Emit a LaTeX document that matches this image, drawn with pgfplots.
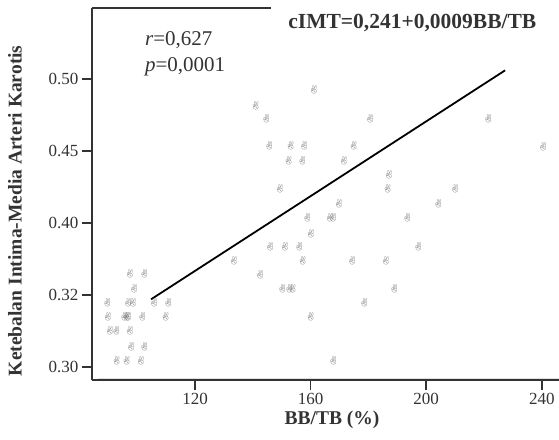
\documentclass[border=0pt]{standalone}
\usepackage{pgfplots}
\pgfplotsset{compat=1.18}
\usepackage{fontspec}
\setmainfont{Liberation Serif}
\newfontfamily\emo{Noto Emoji}
\definecolor{axisgray}{HTML}{333333}
\definecolor{markgray}{HTML}{707070}
\begin{document}
\begin{tikzpicture}
\useasboundingbox (-92pt,-59pt) rectangle (467pt,380pt);
\begin{axis}[
  at={(0,0)}, anchor=south west,
  scale only axis, width=467pt, height=372pt,
  xmin=84.36, xmax=245.95, ymin=0.29097, ymax=0.5493,
  axis x line*=bottom, axis y line*=left,
  axis line style={axisgray, line width=1.3pt, -},
  tick align=outside, major tick length=10pt,
  tick style={axisgray, line width=1.6pt},
  xtick={120,160,200,240},
  ytick={0.30,0.35,0.40,0.45,0.50},
  yticklabels={0.30,0.32,0.40,0.45,0.50},
  /pgf/number format/assume math mode=true,
  ticklabel style={font=\fontsize{17}{18}\selectfont, text=axisgray},
  xlabel={BB/TB (\%)},
  ylabel={Ketebalan Intima-Media Arteri Karotis},
  label style={font=\fontsize{19.5}{21}\selectfont\bfseries, text=axisgray},
  xlabel style={at={(axis description cs:0.514,-0.1075)}, anchor=center},
  ylabel style={at={(axis description cs:-0.165,0.455)}, anchor=center},
  clip=false,
]
% faint inner baseline
\addplot[gray!25, line width=0.8pt] coordinates {(86.5,0.2918) (245.95,0.2918)};
% partial top frame
\addplot[axisgray, line width=1.3pt] coordinates {(84.36,0.5493) (146.3,0.5493)};
% data
\addplot[only marks, mark=text,
  text mark={\fontsize{8}{8}\selectfont\color{markgray}\emo ✌}]
coordinates {
(161.2,0.4924) (141.0,0.4813) (144.7,0.4726) (180.6,0.4726)
(145.8,0.4533) (153.1,0.4533) (157.8,0.4533) (174.9,0.4533)
(152.4,0.4435) (157.2,0.4435) (171.5,0.4435) (187.1,0.4335)
(149.4,0.4236) (186.7,0.4236) (169.8,0.4135) (158.9,0.4033)
(166.7,0.4033) (167.8,0.4033) (160.1,0.3928) (146.0,0.3835)
(151.1,0.3835) (156.1,0.3835) (133.5,0.3736) (157.3,0.3736)
(174.4,0.3736) (186.1,0.3736) (142.6,0.3641) (150.3,0.3545)
(152.7,0.3545) (153.8,0.3545) (189.0,0.3545) (178.6,0.3447)
(160.0,0.3349) (167.9,0.3044)
(221.5,0.4727) (240.5,0.4530) (210.0,0.4236) (204.2,0.4132)
(193.5,0.4033) (197.3,0.3835)
(97.5,0.3644) (102.5,0.3644)
(99.0,0.3542)
(89.7,0.3448) (96.9,0.3448) (98.5,0.3448) (105.9,0.3448) (110.8,0.3448)
(89.9,0.3349) (95.6,0.3349) (96.4,0.3349) (96.9,0.3349) (101.8,0.3349) (109.9,0.3349)
(90.6,0.3250) (92.8,0.3250) (97.5,0.3250)
(97.9,0.3141) (102.5,0.3141)
(92.9,0.3045) (96.4,0.3045) (101.3,0.3045)
};
% regression line
\addplot[black, line width=1.8pt] coordinates {(104.8,0.347) (227.3,0.506)};
\node[anchor=east, font=\fontsize{21.5}{23}\selectfont\bfseries, text=axisgray]
  at (axis description cs:0.959,0.959) {cIMT=0,241+0,0009BB/TB};
\node[anchor=west, font=\fontsize{21}{23}\selectfont, text=axisgray]
  at (axis description cs:0.106,0.914) {\textit{r}=0,627};
\node[anchor=west, font=\fontsize{21}{23}\selectfont, text=axisgray]
  at (axis description cs:0.106,0.842) {\textit{p}=0,0001};
\end{axis}
\end{tikzpicture}
\end{document}
